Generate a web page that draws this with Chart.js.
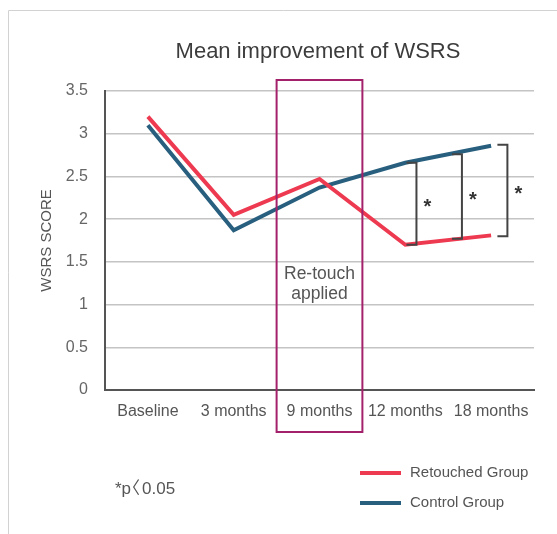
<!DOCTYPE html>
<html><head><meta charset="utf-8">
<script src="https://cdn.jsdelivr.net/npm/chart.js@4"></script>
<style>html,body{margin:0;padding:0;background:#fff;}canvas{display:block;}</style>
</head><body>
<canvas id="c" width="557" height="534"></canvas>
<script>
const categories = ['Baseline', '3 months', '9 months', '12 months', '18 months'];
const retouched = [3.2, 2.05, 2.47, 1.7, 1.81];
const control = [3.1, 1.87, 2.37, 2.66, 2.86];
const seriesNames = ['Retouched Group', 'Control Group'];
const yTickValues = [0, 0.5, 1, 1.5, 2, 2.5, 3, 3.5];
const bracketAt = [3.13, 3.66, 4.19];
const bracketTop = [2.66, 2.76, 2.87];
const bracketBottom = [1.70, 1.77, 1.80];
const bracketMark = ['*', '*', '*'];
const highlightCategory = '9 months';
const highlightLabel = ['Re-touch', 'applied'];
const titleText = 'Mean improvement of WSRS';
const yTitle = 'WSRS SCORE';
const footnoteParts = ['*p', '\u3008', '0.05'];

const FAM = "'Liberation Sans', Arial, 'Noto Sans CJK KR', sans-serif";
Chart.defaults.font.family = FAM;
const RED = '#ee3a50', BLUE = '#285f7e', MAG = '#a3216a';

const deco = {
  id: 'deco',
  beforeDraw(chart) {
    const ctx = chart.ctx;
    ctx.save();
    ctx.strokeStyle = '#d2d2d2';
    ctx.lineWidth = 1;
    ctx.beginPath();
    ctx.moveTo(8.5, 600); ctx.lineTo(8.5, 10.5); ctx.lineTo(600, 10.5);
    ctx.stroke();
    ctx.restore();
  },
  afterDatasetsDraw(chart) {
    const ctx = chart.ctx, xs = chart.scales.x, ys = chart.scales.y, ca = chart.chartArea;
    const p0 = xs.getPixelForValue(0), step = xs.getPixelForValue(1) - p0;
    const px = v => p0 + v * step;
    ctx.save();
    // highlight box
    const hi = categories.indexOf(highlightCategory);
    const bx0 = px(hi) - step / 2, bx1 = px(hi) + step / 2;
    const by0 = ys.getPixelForValue(3.5) - 11, by1 = ca.bottom + 42;
    ctx.strokeStyle = MAG; ctx.lineWidth = 2;
    ctx.strokeRect(bx0, by0, bx1 - bx0, by1 - by0);
    ctx.fillStyle = '#555';
    ctx.font = '17.5px ' + FAM;
    ctx.textAlign = 'center'; ctx.textBaseline = 'middle';
    ctx.fillText(highlightLabel[0], px(hi), 274);
    ctx.fillText(highlightLabel[1], px(hi), 294);
    // brackets
    ctx.strokeStyle = '#444'; ctx.lineWidth = 2;
    bracketAt.forEach((b, i) => {
      const x = px(b), yt = ys.getPixelForValue(bracketTop[i]), yb = ys.getPixelForValue(bracketBottom[i]);
      ctx.beginPath();
      ctx.moveTo(x - 10, yt); ctx.lineTo(x, yt); ctx.lineTo(x, yb); ctx.lineTo(x - 10, yb);
      ctx.stroke();
      ctx.fillStyle = '#333';
      ctx.font = 'bold 20px ' + FAM;
      ctx.textAlign = 'center'; ctx.textBaseline = 'alphabetic';
      ctx.fillText(bracketMark[i], x + 11, (yt + yb) / 2 + 9);
    });
    // title
    ctx.fillStyle = '#3c3c3c';
    ctx.font = '22px ' + FAM;
    ctx.textAlign = 'center'; ctx.textBaseline = 'middle';
    ctx.fillText(titleText, 318, 52);
    // legend
    const cols = [RED, BLUE];
    ctx.font = '15px ' + FAM;
    ctx.textAlign = 'left';
    chart.data.datasets.forEach((d, i) => {
      const y = 473 + i * 30;
      ctx.strokeStyle = cols[i]; ctx.lineWidth = 4;
      ctx.beginPath(); ctx.moveTo(360, y); ctx.lineTo(401, y); ctx.stroke();
      ctx.fillStyle = '#555';
      ctx.fillText(d.label, 410, y);
    });
    // footnote
    ctx.fillStyle = '#555';
    ctx.font = '17px ' + FAM;
    ctx.textAlign = 'left'; ctx.textBaseline = 'middle';
    let fx = 115;
    const fy = 489;
    ctx.fillText(footnoteParts[0], fx, fy);
    fx += ctx.measureText(footnoteParts[0]).width + 1;
    const mb = ctx.measureText(footnoteParts[1]);
    ctx.fillText(footnoteParts[1], fx + mb.actualBoundingBoxLeft, fy);
    fx += mb.actualBoundingBoxLeft + mb.actualBoundingBoxRight + 2;
    ctx.fillText(footnoteParts[2], fx, fy);
    ctx.restore();
  }
};

new Chart(document.getElementById('c'), {
  type: 'line',
  data: {
    labels: categories,
    datasets: [
      { label: seriesNames[0], data: retouched, borderColor: RED, borderWidth: 4, pointRadius: 0, tension: 0, fill: false },
      { label: seriesNames[1], data: control, borderColor: BLUE, borderWidth: 4, pointRadius: 0, tension: 0, fill: false }
    ]
  },
  options: {
    responsive: false,
    animation: false,
    events: [],
    layout: { padding: { left: 0, top: 91, right: 23, bottom: 0 } },
    plugins: { legend: { display: false }, title: { display: false }, tooltip: { enabled: false } },
    scales: {
      x: {
        offset: true,
        grid: { display: false, drawTicks: false },
        border: { display: true, color: '#555', width: 2 },
        ticks: { color: '#555', font: { size: 16 }, padding: 12, maxRotation: 0, autoSkip: false },
        afterFit(s) { s.height = 144; }
      },
      y: {
        min: 0, max: 3.5,
        afterBuildTicks(s) { s.ticks = yTickValues.map(v => ({ value: v })); },
        grid: { color: '#c4c4c4', lineWidth: 1.5, drawTicks: false },
        border: { display: true, color: '#555', width: 2 },
        ticks: { color: '#666', font: { size: 16 }, padding: 17, callback: v => String(v) },
        title: { display: true, text: yTitle, color: '#555', font: { size: 15 }, padding: { top: 38, bottom: 0 } },
        afterFit(s) { s.width = 105; }
      }
    }
  },
  plugins: [deco]
});
</script>
</body></html>
